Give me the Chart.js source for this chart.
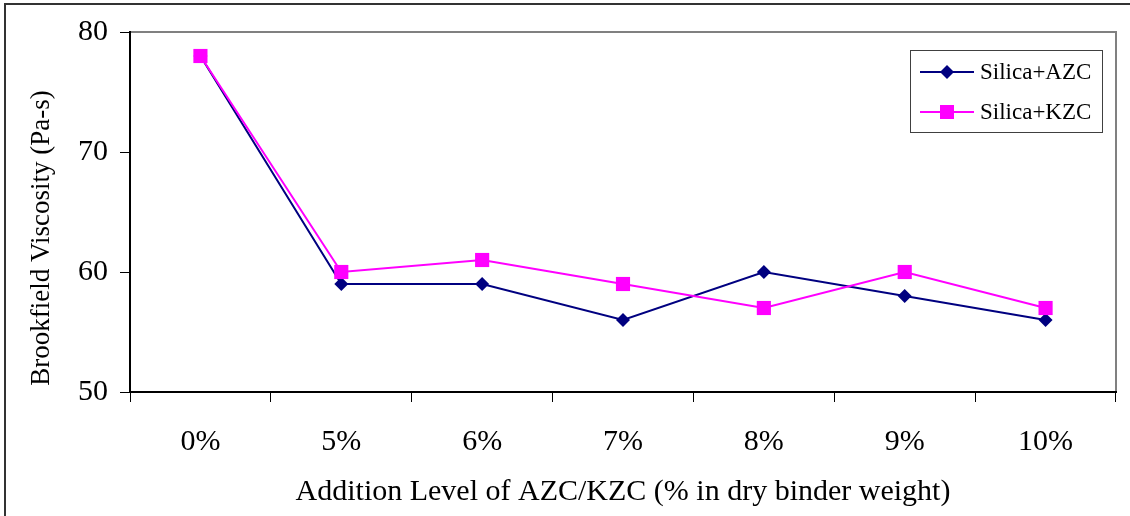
<!DOCTYPE html>
<html><head><meta charset="utf-8">
<script src="https://cdn.jsdelivr.net/npm/chart.js@4.4.1/dist/chart.umd.min.js"></script>
<style>html,body{margin:0;padding:0;background:#fff;}#wrap{width:1130px;height:516px;position:relative;}</style>
</head><body><div id="wrap"><canvas id="c" width="1130" height="516"></canvas></div>
<script>
const categories = ['0%', '5%', '6%', '7%', '8%', '9%', '10%'];
const azcValues = [78, 59, 59, 56, 60, 58, 56];
const kzcValues = [78, 60, 61, 59, 57, 60, 57];
const yTicks = [50, 60, 70, 80];
const seriesNames = ['Silica+AZC', 'Silica+KZC'];
const xTitle = 'Addition Level of AZC/KZC (% in dry binder weight)';
const yTitle = 'Brookfield Viscosity (Pa-s)';

const FONT = '"Liberation Serif", "Times New Roman", serif';

const framePlugin = {
  id: 'frame',
  beforeDraw(chart) {
    const ctx = chart.ctx;
    ctx.save();
    ctx.fillStyle = '#fff';
    ctx.fillRect(0, 0, chart.width, chart.height);
    ctx.strokeStyle = '#333';
    ctx.lineWidth = 2;
    ctx.strokeRect(5, 4, 1140, 530);
    const a = chart.chartArea;
    ctx.strokeStyle = '#808080';
    ctx.lineWidth = 2;
    ctx.beginPath();
    ctx.moveTo(a.left, a.top);
    ctx.lineTo(a.right, a.top);
    ctx.lineTo(a.right, a.bottom);
    ctx.stroke();
    ctx.restore();
  },
  afterDraw(chart) {
    const ctx = chart.ctx;
    ctx.save();
    // y axis title
    ctx.translate(42, 238);
    ctx.rotate(-Math.PI / 2);
    ctx.fillStyle = '#000';
    ctx.font = '27px ' + FONT;
    ctx.textAlign = 'center';
    ctx.textBaseline = 'middle';
    ctx.fillText(yTitle, 0, 0);
    ctx.restore();

    ctx.save();
    const bx = 910, by = 50, bw = 192, bh = 82;
    ctx.fillStyle = '#fff';
    ctx.fillRect(bx, by, bw, bh);
    ctx.strokeStyle = '#404040';
    ctx.lineWidth = 1;
    ctx.strokeRect(bx + 0.5, by + 0.5, bw, bh);
    chart.data.datasets.forEach((ds, i) => {
      const y = by + 22 + i * 40;
      ctx.strokeStyle = ds.borderColor;
      ctx.lineWidth = 2;
      ctx.beginPath();
      ctx.moveTo(920, y);
      ctx.lineTo(974, y);
      ctx.stroke();
      ctx.fillStyle = ds.pointBackgroundColor;
      ctx.beginPath();
      if (ds.pointStyle === 'rectRot') {
        const r = 7;
        ctx.moveTo(947, y - r); ctx.lineTo(947 + r, y); ctx.lineTo(947, y + r); ctx.lineTo(947 - r, y);
        ctx.closePath();
      } else {
        ctx.rect(940, y - 7, 14, 14);
      }
      ctx.fill();
      ctx.fillStyle = '#000';
      ctx.font = '23px ' + FONT;
      ctx.textBaseline = 'middle';
      ctx.textAlign = 'left';
      ctx.fillText(ds.label, 980, y + 1);
    });
    ctx.restore();
  }
};

new Chart(document.getElementById('c'), {
  type: 'line',
  data: {
    labels: categories,
    datasets: [
      {
        label: seriesNames[0], data: azcValues, order: 1,
        borderColor: '#000080', backgroundColor: '#000080', pointBackgroundColor: '#000080', pointBorderColor: '#000080',
        borderWidth: 2, pointStyle: 'rectRot', pointRadius: 7, pointBorderWidth: 0, tension: 0
      },
      {
        label: seriesNames[1], data: kzcValues, order: 0,
        borderColor: '#FF00FF', backgroundColor: '#FF00FF', pointBackgroundColor: '#FF00FF', pointBorderColor: '#FF00FF',
        borderWidth: 2, pointStyle: 'rect', pointRadius: 10, pointBorderWidth: 0, tension: 0
      }
    ]
  },
  options: {
    responsive: false, animation: false, devicePixelRatio: 1,
    layout: { padding: { top: 32, right: 14, left: 0, bottom: 0 } },
    plugins: { legend: { display: false }, tooltip: { enabled: false } },
    scales: {
      x: {
        type: 'category', offset: true,
        grid: { display: true, drawOnChartArea: false, drawTicks: true, tickLength: 10, offset: true, color: '#000', lineWidth: 1 },
        border: { display: true, color: '#000', width: 2 },
        ticks: { color: '#000', font: { family: FONT, size: 30 }, padding: 22, maxRotation: 0 },
        title: { display: true, text: xTitle, color: '#000', font: { family: FONT, size: 30 }, padding: { top: 4, bottom: 6 } },
        afterFit(s) { s.height = 124; }
      },
      y: {
        min: 50, max: 80,
        afterBuildTicks(s) { s.ticks = yTicks.map(v => ({ value: v })); },
        grid: { display: true, drawOnChartArea: false, drawTicks: true, tickLength: 10, color: '#000', lineWidth: 1 },
        border: { display: true, color: '#000', width: 2 },
        ticks: { color: '#000', font: { family: FONT, size: 30 }, padding: 12 },
        title: { display: false },
        afterFit(s) { s.width = 130; }
      }
    }
  },
  plugins: [framePlugin]
});
</script></body></html>
